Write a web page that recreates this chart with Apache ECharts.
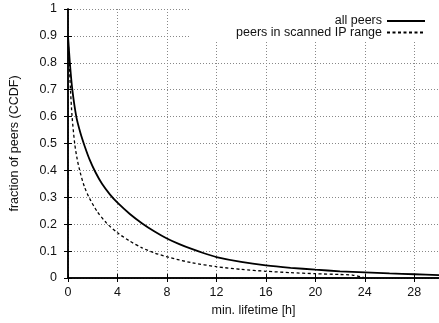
<!DOCTYPE html>
<html>
<head>
<meta charset="utf-8">
<script src="https://cdn.jsdelivr.net/npm/echarts@6/dist/echarts.min.js"></script>
<style>
  html, body { margin: 0; padding: 0; background: #fff; }
  #chart { width: 439px; height: 323px; }
</style>
</head>
<body>
<div id="chart"></div>
<script>
// all peers (solid)
var hoursAll = [0, 0.15, 0.35, 0.67, 1.0, 1.35, 1.75, 2.2, 2.75, 3.4, 4, 5, 6, 7, 8, 9, 10, 11, 12, 14, 16, 18, 20, 22, 24, 26, 28, 30];
var fracAll = [0.9, 0.8, 0.7, 0.6, 0.54, 0.49, 0.44, 0.395, 0.35, 0.31, 0.28, 0.238, 0.203, 0.173, 0.147, 0.126, 0.108, 0.092, 0.078, 0.06, 0.047, 0.038, 0.031, 0.025, 0.021, 0.017, 0.014, 0.011];

// peers in scanned IP range (dashed)
var hoursScan = [0, 0.1, 0.2, 0.33, 0.54, 0.75, 1.0, 1.32, 1.75, 2.35, 3.1, 4, 5, 6, 7, 8, 9, 10, 12, 14, 16, 18, 20, 22, 23, 23.9];
var fracScan = [0.9, 0.8, 0.7, 0.6, 0.5, 0.44, 0.39, 0.34, 0.295, 0.248, 0.205, 0.168, 0.137, 0.112, 0.093, 0.079, 0.067, 0.057, 0.042, 0.032, 0.025, 0.020, 0.016, 0.013, 0.011, 0.002];

var seriesNames = ['all peers', 'peers in scanned IP range'];

function pairs(xs, ys) {
  var out = [];
  for (var i = 0; i < xs.length; i++) out.push([xs[i], ys[i]]);
  return out;
}

var font = 'Liberation Sans, Arial, sans-serif';
var txt = { color: '#111', fontFamily: font, fontSize: 12.5 };
var grid = { type: [1, 2], color: '#888', width: 1 };

var chart = echarts.init(document.getElementById('chart'), null, { renderer: 'canvas' });
chart.setOption({
  animation: false,
  grid: { left: 64, right: 0, top: 9, bottom: 45 },
  legend: {
    orient: 'vertical',
    align: 'right',
    right: 0,
    top: 9,
    padding: [5.5, 13, 1, 46],
    itemGap: -1.5,
    itemWidth: 38,
    itemHeight: 2,
    backgroundColor: '#fff',
    z: 5,
    itemStyle: { opacity: 0 },
    textStyle: { color: '#111', fontFamily: font, fontSize: 12.5 },
    data: seriesNames
  },
  xAxis: [
    {
      type: 'value', min: 0, max: 30, interval: 4,
      name: 'min. lifetime [h]', nameLocation: 'middle', nameGap: 25,
      nameTextStyle: txt,
      axisLine: { lineStyle: { color: '#000', width: 1.5 } },
      axisTick: { inside: true, length: 4, lineStyle: { color: '#000' } },
      axisLabel: Object.assign({ margin: 8, showMaxLabel: false }, txt),
      splitLine: { show: true, lineStyle: grid }
    },
    {
      type: 'value', min: 0, max: 30, interval: 4, position: 'top', z: 10,
      axisLine: { lineStyle: { color: '#000', width: 1.5 } },
      axisTick: { inside: true, length: 4, lineStyle: { color: '#000' } },
      axisLabel: { show: false },
      splitLine: { show: false }
    }
  ],
  yAxis: [
    {
      type: 'value', min: 0, max: 1, interval: 0.1,
      name: 'fraction of peers (CCDF)', nameLocation: 'middle', nameGap: 47,
      nameTextStyle: txt,
      axisLine: { show: true, lineStyle: { color: '#000', width: 1.5 } },
      axisTick: { show: true, inside: true, length: 4, lineStyle: { color: '#000' } },
      axisLabel: Object.assign({ margin: 11 }, txt),
      splitLine: { show: true, lineStyle: grid }
    },
    {
      type: 'value', min: 0, max: 1, interval: 0.1, position: 'right', z: 10,
      axisLine: { show: true, lineStyle: { color: '#000', width: 1.5 } },
      axisTick: { show: true, inside: true, length: 4, lineStyle: { color: '#000' } },
      axisLabel: { show: false },
      splitLine: { show: false }
    }
  ],
  series: [
    {
      name: seriesNames[0],
      type: 'line',
      data: pairs(hoursAll, fracAll),
      showSymbol: false,
      symbol: 'none',
      smooth: 0.25,
      color: '#000',
      lineStyle: { color: '#000', width: 1.8 }
    },
    {
      name: seriesNames[1],
      type: 'line',
      data: pairs(hoursScan, fracScan),
      showSymbol: false,
      symbol: 'none',
      smooth: 0.25,
      color: '#000',
      lineStyle: { color: '#000', width: 1.3, type: [3, 2.5] }
    }
  ]
});
</script>
</body>
</html>
